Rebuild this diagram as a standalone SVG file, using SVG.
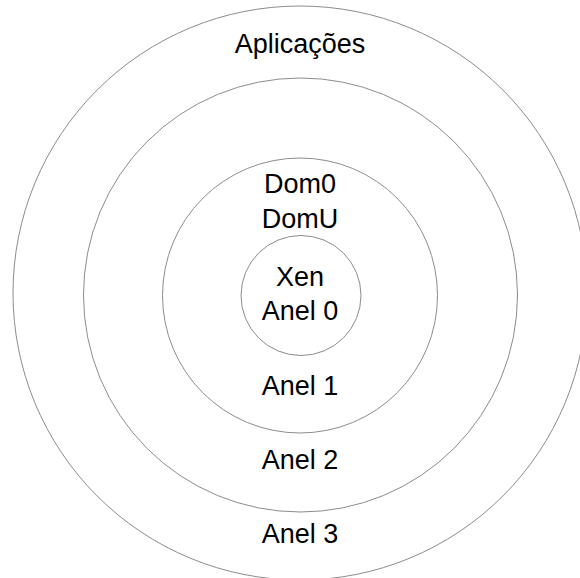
<svg xmlns="http://www.w3.org/2000/svg" width="580" height="578" viewBox="0 0 580 578">
<style>
.ring{fill:none;stroke:#8c8c8c;stroke-width:1}
.lbl{font-family:"Liberation Sans",Arial,sans-serif;font-size:27px;fill:#000;text-anchor:middle}
</style>
<rect width="580" height="578" fill="#fff"/>
<g id="ring3">
<circle class="ring" cx="300" cy="293" r="287"/>
<text class="lbl" x="300" y="53">Aplicações</text>
<text class="lbl" x="300" y="543">Anel 3</text>
</g>
<g id="ring2">
<circle class="ring" cx="300.5" cy="295" r="217"/>
<text class="lbl" x="300" y="469">Anel 2</text>
</g>
<g id="ring1">
<circle class="ring" cx="300" cy="295.5" r="137.5"/>
<text class="lbl" x="300" y="193">Dom0</text>
<text class="lbl" x="300" y="228">DomU</text>
<text class="lbl" x="300" y="395">Anel 1</text>
</g>
<g id="ring0">
<circle class="ring" cx="301" cy="295.5" r="60"/>
<text class="lbl" x="300" y="286">Xen</text>
<text class="lbl" x="300" y="320">Anel 0</text>
</g>
</svg>
